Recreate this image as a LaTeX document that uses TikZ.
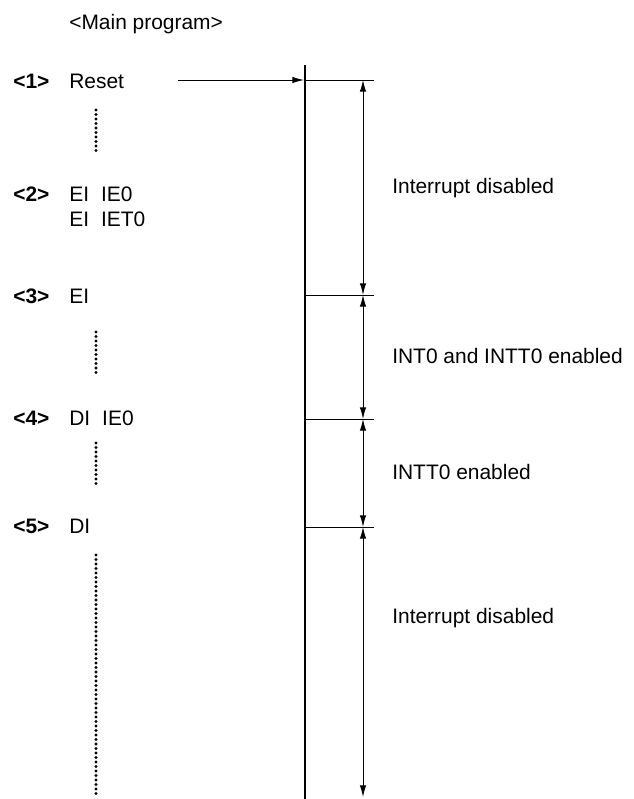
\documentclass[tikz,border=0pt]{standalone}
\usepackage{fontspec}
\setmainfont{Liberation Sans}
\usetikzlibrary{arrows.meta}

\begin{document}
\begin{tikzpicture}[
  >={Latex[length=2.9mm,width=1.6mm]},
  font=\fontsize{14.9}{17}\selectfont,
  txt/.style={anchor=base west, inner sep=0pt},
  num/.style={txt, font=\fontsize{14.9}{17}\selectfont\bfseries},
  rule/.style={line width=0.7pt},
  axis/.style={line width=2.1pt},
  dotline/.style={line width=2.4pt, line cap=round, dash pattern=on 0pt off 3.2pt}
]
\useasboundingbox (0,0) rectangle (15.85,-19.975);
% --- program steps ---
\node[txt] (title) at (1.725,-0.725) {<Main program>};
\node[num] (s1) at (0.325,-2.2)   {<1>};
\node[txt] (p1) at (1.725,-2.2)   {Reset};
\node[num] (s2) at (0.325,-5.025) {<2>};
\node[txt] (p2) at (1.725,-5.025) {EI\hspace{0.3cm}IE0};
\node[txt] (p2b) at (1.725,-5.65) {EI\hspace{0.3cm}IET0};
\node[num] (s3) at (0.325,-7.575) {<3>};
\node[txt] (p3) at (1.725,-7.575) {EI};
\node[num] (s4) at (0.325,-10.625) {<4>};
\node[txt] (p4) at (1.725,-10.625) {DI\hspace{0.3cm}IE0};
\node[num] (s5) at (0.325,-13.325) {<5>};
\node[txt] (p5) at (1.725,-13.325) {DI};
\draw[dotline] (2.4,-2.75) -- (2.4,-3.85);
\draw[dotline] (2.4,-8.3) -- (2.4,-9.375);
\draw[dotline] (2.4,-11.075) -- (2.4,-12.175);
\draw[dotline] (2.4,-13.875) -- (2.4,-19.925);
% --- time line ---
\coordinate (top) at (7.625,-1.625);
\coordinate (bot) at (7.625,-19.975);
\draw[axis] (top) -- (bot);
\coordinate (in) at (4.45,-2.0);
\coordinate (hit) at (7.6,-2.0);
\draw[rule,->] (in) -- (hit);
\coordinate (h1) at (7.625,-2.0);   \coordinate (e1) at (9.35,-2.0);
\coordinate (h2) at (7.625,-7.375); \coordinate (e2) at (9.35,-7.375);
\coordinate (h3) at (7.625,-10.475); \coordinate (e3) at (9.35,-10.475);
\coordinate (h4) at (7.625,-13.175); \coordinate (e4) at (9.35,-13.175);
\draw[rule] (h1) -- (e1); \draw[rule] (h2) -- (e2);
\draw[rule] (h3) -- (e3); \draw[rule] (h4) -- (e4);
\coordinate (a1) at (9.075,-2.0);
\coordinate (a2) at (9.075,-7.375);
\coordinate (a3) at (9.075,-10.475);
\coordinate (a4) at (9.075,-13.175);
\coordinate (a5) at (9.075,-19.925);
\draw[rule,<->] (a1) -- (a2); \draw[rule,<->] (a2) -- (a3);
\draw[rule,<->] (a3) -- (a4); \draw[rule,<->] (a4) -- (a5);
% --- states ---
\node[txt] (r1) at (9.8,-4.825)  {Interrupt disabled};
\node[txt] (r2) at (9.8,-9.075)  {INT0 and INTT0 enabled};
\node[txt] (r3) at (9.8,-11.975) {INTT0 enabled};
\node[txt] (r4) at (9.8,-15.575) {Interrupt disabled};
\end{tikzpicture}
\end{document}
